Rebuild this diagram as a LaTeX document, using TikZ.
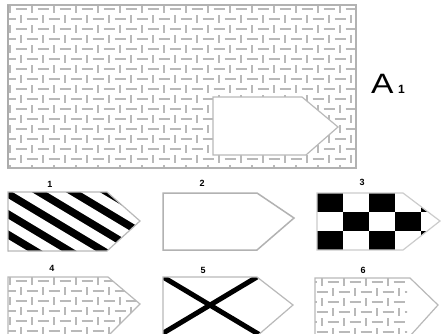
\documentclass[tikz,border=0pt]{standalone}
\usepackage{fontspec}
\setsansfont{Liberation Sans}
\tikzset{
  weave/.style={draw=gray!55, line width=1.8pt},
  outl/.style={draw=gray!55, line width=1.2pt},
  lbl/.style={font=\sffamily\bfseries\fontsize{9}{9}\selectfont, inner sep=0pt},
}
\newcommand{\weaveit}[4]{%
  \foreach \i in {0,...,#3}{\foreach \j in {0,...,#4}{
    \draw[weave] ({#1+22*\i+5.5},{#2+20*\j+5}) -- ++(11,0);
    \draw[weave] ({#1+22*\i},{#2+20*\j+1}) -- ++(0,8);
    \draw[weave] ({#1+22*\i+16.5},{#2+20*\j+15}) -- ++(11,0);
    \draw[weave] ({#1+22*\i+11},{#2+20*\j+11}) -- ++(0,8);
  }}}
\begin{document}
\begin{tikzpicture}[x=1pt,y=-1pt]
\useasboundingbox (0,0) rectangle (441,333);
\fill[white] (0,0) rectangle (441,333);
% main panel
\begin{scope}
  \clip (8,5) rectangle (356,168);
  \weaveit{-12}{4}{17}{8}
\end{scope}
\draw[draw=gray!60, line width=1.2pt] (8,5) rectangle (356,168);
\draw[draw=gray!65, line width=2.5pt] (8,5) -- (8,168);
\filldraw[fill=white, outl] (213,97) -- (302,97) -- (338,127) -- (306,155) -- (213,155) -- cycle;
\node[font=\sffamily\fontsize{28}{28}\selectfont, xscale=1.2, anchor=base west, inner sep=0pt] (A) at (371,93) {A};
\node[font=\sffamily\bfseries\fontsize{12}{12}\selectfont, anchor=base west, inner sep=0pt] (A1) at (398,93) {1};
% shape 1: stripes
\begin{scope}
  \clip (8,192) -- (107,192) -- (140,221) -- (107,251) -- (8,251) -- cycle;
  \foreach \c in {-131,-97,-63,-29,5,39,73,107}
    \draw[black, line width=7.5pt] ({\c-60},156) -- ({\c+200},312);
\end{scope}
\draw[outl] (8,192) -- (107,192) -- (140,221) -- (107,251) -- (8,251) -- cycle;
\node[lbl] (l1) at (50,184) {1};
% shape 2: empty
\draw[draw=gray!60, line width=1.5pt] (163,193) -- (257,193) -- (294,218) -- (257,250) -- (163,250) -- cycle;
\node[lbl] (l2) at (202,183) {2};
% shape 3: checker
\begin{scope}
  \clip (317,193) -- (403,193) -- (440,221) -- (403,250) -- (317,250) -- cycle;
  \foreach \i in {0,...,4}{\foreach \j in {0,1,2}{
    \pgfmathtruncatemacro{\parity}{mod(\i+\j,2)}
    \ifnum\parity=0
      \fill[black] ({317+26*\i},{193+19*\j}) rectangle ++(26,19);
    \fi
  }}
\end{scope}
\draw[outl, draw=gray!40] (317,193) -- (403,193) -- (440,221) -- (403,250) -- (317,250) -- cycle;
\node[lbl] (l3) at (362,182) {3};
% shape 4: weave
\begin{scope}
  \clip (8,277) -- (108,277) -- (140,304) -- (108,336) -- (8,336) -- cycle;
  \weaveit{-12}{276}{7}{3}
\end{scope}
\draw[outl] (8,277) -- (108,277) -- (140,304) -- (108,336) -- (8,336) -- cycle;
\node[lbl] (l4) at (52,268) {4};
% shape 5: cross
\begin{scope}
  \clip (163,277) -- (257,277) -- (293,305) -- (257,336) -- (163,336) -- cycle;
  \draw[black, line width=5pt] (163,277) -- (260,335);
  \draw[black, line width=5pt] (257,277) -- (160,335);
\end{scope}
\draw[outl] (163,277) -- (257,277) -- (293,305) -- (257,336) -- (163,336) -- cycle;
\node[lbl] (l5) at (203,270) {5};
% shape 6: weave in body only
\begin{scope}
  \clip (315,278) rectangle (407,336);
  \weaveit{300}{277}{5}{3}
\end{scope}
\draw[outl] (315,278) -- (410,278) -- (438,305) -- (410,336) -- (315,336) -- cycle;
\node[lbl] (l6) at (363,270) {6};
\end{tikzpicture}
\end{document}
